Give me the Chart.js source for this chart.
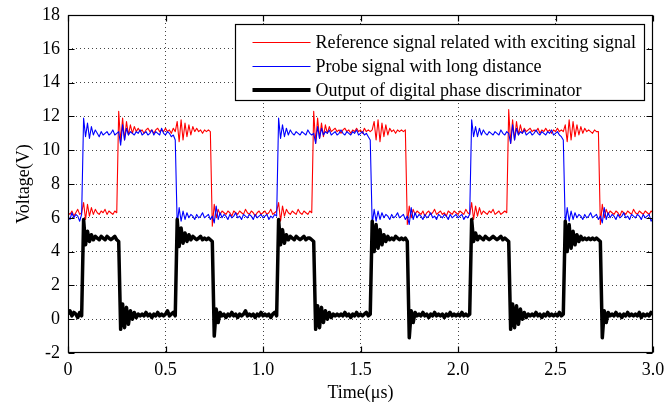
<!DOCTYPE html>
<html lang="en">
<head>
<meta charset="UTF-8">
<title>Phase discriminator waveforms</title>
<script src="https://cdn.jsdelivr.net/npm/chart.js@4"></script>
<style>
  html, body { margin: 0; padding: 0; background: #fff; }
  #wrap { width: 664px; height: 408px; }
</style>
</head>
<body>
<div id="wrap"><canvas id="scope" width="664" height="408"></canvas></div>
<script>
// scope samples, one every 0.01 us from 0 to 3.0 us (301 per trace)
const sampleStep = 0.01;

const referenceSignal = [
  6.3, 6.2, 6.4, 6.1, 6.3, 6.5, 6.2, 6.3, 6.9, 5.9,      // 0
  6.8, 6.1, 6.6, 6.2, 6.5, 6.3, 6.2, 6.4, 6.3, 6.5,
  6.2, 6.4, 6.3, 6.2, 6.4, 6.3, 12.3, 10.5, 11.9, 10.6,
  11.7, 10.9, 11.5, 11.0, 11.4, 11.1, 11.3, 11.1, 11.2, 11.0,
  11.2, 11.3, 11.1, 11.2, 11.0, 11.2, 11.3, 11.1, 11.2, 11.1,
  11.3, 11.1, 11.2, 11.0, 11.3, 11.1, 11.7, 10.5, 11.8, 10.6,
  11.6, 10.8, 11.5, 10.9, 11.4, 11.1, 11.3, 11.1, 11.2, 11.0,
  11.2, 11.1, 11.2, 11.1, 5.5, 6.8, 6.0, 6.5, 6.2, 6.4,
  6.3, 6.2, 6.4, 6.3, 6.1, 6.4, 6.3, 6.2, 6.4, 6.3,
  6.2, 6.5, 6.3, 6.2, 6.4, 6.3, 6.1, 6.3, 6.4, 6.2,
  6.3, 6.4, 6.2, 6.3, 6.5, 6.2, 6.3, 6.4, 6.9, 5.8,      // 100
  6.7, 6.1, 6.5, 6.3, 6.2, 6.4, 6.3, 6.2, 6.5, 6.3,
  6.2, 6.4, 6.3, 6.2, 6.4, 6.3, 12.3, 10.4, 11.9, 10.7,
  11.6, 10.8, 11.5, 11.0, 11.4, 11.1, 11.2, 11.3, 11.1, 11.2,
  11.0, 11.2, 11.3, 11.1, 11.2, 11.0, 11.2, 11.1, 11.3, 11.1,
  11.2, 11.0, 11.3, 11.1, 11.2, 11.1, 11.2, 11.7, 10.6, 11.8,
  10.5, 11.6, 10.8, 11.5, 10.9, 11.3, 11.1, 11.2, 11.0, 11.2,
  11.1, 11.2, 11.1, 11.2, 5.6, 6.7, 6.0, 6.5, 6.2, 6.4,
  6.3, 6.2, 6.4, 6.1, 6.3, 6.4, 6.2, 6.3, 6.5, 6.2,
  6.3, 6.4, 6.2, 6.3, 6.1, 6.4, 6.3, 6.2, 6.4, 6.3,
  6.2, 6.4, 6.3, 6.2, 6.5, 6.3, 6.2, 6.9, 5.9, 6.7,      // 200
  6.1, 6.6, 6.2, 6.4, 6.3, 6.2, 6.4, 6.3, 6.5, 6.2,
  6.3, 6.4, 6.2, 6.3, 6.4, 6.3, 12.4, 10.4, 11.8, 10.6,
  11.7, 10.9, 11.5, 11.0, 11.3, 11.1, 11.2, 11.3, 11.1, 11.2,
  11.1, 11.3, 11.0, 11.2, 11.1, 11.3, 11.1, 11.2, 11.0, 11.2,
  11.1, 11.3, 11.1, 11.2, 11.1, 11.5, 10.5, 11.8, 10.6, 11.7,
  10.8, 11.5, 10.9, 11.4, 11.0, 11.3, 11.1, 11.2, 11.1, 11.0,
  11.2, 11.1, 11.1, 5.6, 6.8, 6.0, 6.5, 6.2, 6.4, 6.3,
  6.2, 6.4, 6.3, 6.1, 6.4, 6.3, 6.2, 6.4, 6.3, 6.2,
  6.5, 6.3, 6.2, 6.4, 6.3, 6.2, 6.4, 6.3, 6.2, 6.4,
  6.3                                                    // 300
];

const probeSignal = [
  6.1, 5.9, 6.3, 6.0, 6.2, 6.1, 5.8, 6.2, 11.9, 10.8,    // 0
  11.6, 10.7, 11.4, 10.9, 11.2, 11.0, 10.8, 11.1, 10.9, 11.0,
  11.1, 10.9, 11.0, 11.2, 10.9, 11.0, 11.1, 10.3, 11.5, 10.6,
  11.3, 10.9, 11.1, 11.0, 10.9, 11.1, 11.0, 11.2, 10.9, 11.0,
  11.1, 10.9, 11.0, 11.2, 10.9, 11.1, 11.0, 10.9, 11.3, 11.0,
  10.9, 11.1, 11.0, 10.8, 10.9, 10.6, 5.6, 6.6, 5.8, 6.4,
  5.9, 6.3, 6.0, 6.2, 6.1, 5.9, 6.2, 6.0, 6.1, 6.3,
  6.0, 6.1, 6.2, 5.9, 6.1, 5.7, 6.7, 5.9, 6.3, 6.0,
  6.2, 6.1, 5.9, 6.2, 6.0, 6.1, 6.3, 6.0, 6.1, 5.9,
  6.2, 6.1, 6.0, 6.2, 6.1, 5.9, 6.2, 6.0, 6.1, 6.2,
  6.0, 6.1, 6.2, 5.9, 6.1, 6.0, 6.2, 6.1, 11.9, 10.7,    // 100
  11.5, 10.8, 11.3, 10.9, 11.2, 11.0, 10.9, 11.1, 11.0, 10.9,
  11.1, 11.0, 10.9, 11.2, 11.0, 10.9, 11.0, 10.4, 11.4, 10.7,
  11.3, 10.9, 11.1, 11.0, 11.2, 10.9, 11.0, 11.1, 10.9, 11.0,
  11.2, 11.0, 10.9, 11.1, 11.0, 10.9, 11.1, 11.0, 11.2, 10.9,
  11.0, 11.1, 10.9, 11.0, 10.8, 10.6, 5.6, 6.5, 5.8, 6.4,
  5.9, 6.3, 6.0, 6.2, 6.1, 5.9, 6.2, 6.0, 6.1, 6.3,
  6.0, 6.1, 6.2, 5.9, 6.1, 5.6, 6.6, 5.9, 6.3, 6.0,
  6.2, 6.1, 5.9, 6.2, 6.0, 6.1, 6.3, 6.0, 6.1, 5.9,
  6.2, 6.1, 6.0, 6.2, 6.1, 5.9, 6.2, 6.0, 6.1, 6.2,
  6.0, 6.1, 6.2, 5.9, 6.1, 6.0, 6.2, 11.8, 10.8, 11.4,   // 200
  10.8, 11.3, 10.9, 11.2, 11.0, 10.9, 11.1, 11.0, 10.9, 11.1,
  11.0, 10.9, 11.2, 11.0, 10.9, 11.1, 11.0, 10.4, 11.5, 10.6,
  11.3, 10.9, 11.1, 11.0, 11.2, 10.9, 11.0, 11.1, 10.9, 11.0,
  11.2, 11.0, 10.9, 11.1, 11.0, 10.9, 11.1, 11.0, 11.2, 10.9,
  11.0, 11.1, 10.9, 10.8, 10.6, 5.6, 6.6, 5.8, 6.4, 5.9,
  6.3, 6.0, 6.2, 6.1, 5.9, 6.2, 6.0, 6.1, 6.3, 6.0,
  6.1, 6.2, 5.9, 6.1, 5.7, 6.6, 5.9, 6.3, 6.0, 6.2,
  6.1, 5.9, 6.2, 6.0, 6.1, 6.3, 6.0, 6.1, 5.9, 6.2,
  6.1, 6.0, 6.2, 6.1, 5.9, 6.2, 6.0, 6.1, 6.2, 5.8,
  6.0                                                    // 300
];

const discriminatorOutput = [
  0.3, 0.5, 0.2, 0.4, 0.3, 0.1, 0.4, 0.2, 5.9, 4.4,      // 0
  5.2, 4.6, 5.0, 4.7, 4.9, 4.8, 4.7, 4.9, 4.8, 4.7,
  4.9, 4.8, 4.7, 4.8, 4.9, 4.7, 4.6, -0.6, 0.9, -0.5,
  0.7, -0.3, 0.5, 0.0, 0.4, 0.1, 0.3, 0.2, 0.3, 0.2,
  0.4, 0.2, 0.3, 0.1, 0.3, 0.2, 0.4, 0.2, 0.3, 0.2,
  0.3, 0.5, 0.2, 0.3, 0.4, 0.2, 5.9, 4.3, 5.4, 4.5,
  5.1, 4.6, 5.0, 4.7, 4.9, 4.8, 4.7, 4.8, 4.9, 4.7,
  4.8, 4.7, 4.8, 4.7, 4.6, -1.0, 0.6, -0.2, 0.4, 0.2,
  0.3, 0.1, 0.3, 0.2, 0.4, 0.2, 0.3, 0.1, 0.3, 0.2,
  0.3, 0.5, 0.2, 0.3, 0.2, 0.3, 0.1, 0.3, 0.2, 0.4,
  0.2, 0.3, 0.2, 0.3, 0.1, 0.3, 0.4, 0.2, 5.9, 4.4,      // 100
  5.3, 4.5, 5.0, 4.7, 4.9, 4.8, 4.7, 4.9, 4.8, 4.7,
  4.8, 4.9, 4.7, 4.8, 4.8, 4.7, 4.6, -0.6, 0.8, -0.5,
  0.7, -0.2, 0.5, 0.0, 0.4, 0.1, 0.3, 0.2, 0.3, 0.2,
  0.3, 0.2, 0.4, 0.2, 0.3, 0.1, 0.3, 0.2, 0.4, 0.2,
  0.3, 0.2, 0.3, 0.4, 0.2, 0.3, 5.8, 4.0, 5.6, 4.2,
  5.3, 4.4, 5.0, 4.6, 4.9, 4.7, 4.8, 4.7, 4.9, 4.8,
  4.7, 4.8, 4.7, 4.8, 4.6, -1.1, 0.5, -0.2, 0.4, 0.2,
  0.3, 0.2, 0.4, 0.2, 0.3, 0.1, 0.3, 0.2, 0.4, 0.2,
  0.3, 0.2, 0.3, 0.1, 0.3, 0.2, 0.4, 0.2, 0.3, 0.2,
  0.3, 0.2, 0.4, 0.2, 0.3, 0.2, 0.3, 5.9, 4.6, 5.1,      // 200
  4.7, 4.9, 4.8, 4.7, 4.9, 4.8, 4.7, 4.8, 4.9, 4.8,
  4.7, 4.8, 4.9, 4.7, 4.8, 4.7, 4.6, -0.6, 0.9, -0.5,
  0.8, -0.3, 0.6, 0.0, 0.4, 0.1, 0.3, 0.2, 0.3, 0.2,
  0.4, 0.2, 0.3, 0.1, 0.3, 0.2, 0.4, 0.2, 0.3, 0.2,
  0.3, 0.2, 0.4, 0.2, 0.3, 5.8, 4.0, 5.6, 4.2, 5.2,
  4.4, 5.0, 4.6, 4.9, 4.7, 4.8, 4.7, 4.8, 4.7, 4.8,
  4.7, 4.8, 4.7, 4.6, -1.1, 0.5, -0.2, 0.4, 0.2, 0.3,
  0.2, 0.4, 0.2, 0.3, 0.1, 0.3, 0.2, 0.4, 0.2, 0.3,
  0.2, 0.3, 0.2, 0.4, 0.1, 0.3, 0.2, 0.3, 0.2, 0.4,
  0.3                                                    // 300
];

const seriesLabels = [
  'Reference signal related with exciting signal',
  'Probe signal with long distance',
  'Output of digital phase discriminator'
];
const seriesColors = ['#ff0000', '#0000ff', '#000000'];
const xTicks = [0, 0.5, 1.0, 1.5, 2.0, 2.5, 3.0];
const yTicks = [-2, 0, 2, 4, 6, 8, 10, 12, 14, 16, 18];

const serif = 'Liberation Serif, Times New Roman, serif';

function toPoints(values) {
  return values.map((v, i) => ({ x: Math.round(i * sampleStep * 100) / 100, y: v }));
}

// box, inward ticks and the legend, drawn MATLAB-style
const scopeFrame = {
  id: 'scopeFrame',
  afterDraw(chart) {
    const { ctx, chartArea: a, scales } = chart;
    const L = Math.round(a.left) + 0.5, R = Math.round(a.right) - 0.5;
    const T = Math.round(a.top) + 0.5, B = Math.round(a.bottom) - 0.5;
    const tick = 6;
    ctx.save();
    ctx.setLineDash([]);
    ctx.strokeStyle = '#000';
    ctx.lineWidth = 1.2;
    ctx.strokeRect(L, T, R - L, B - T);
    ctx.beginPath();
    xTicks.forEach(v => {
      const px = Math.round(scales.x.getPixelForValue(v)) + 0.5;
      ctx.moveTo(px, B); ctx.lineTo(px, B - tick);
      ctx.moveTo(px, T); ctx.lineTo(px, T + tick);
    });
    yTicks.forEach(v => {
      const py = Math.round(scales.y.getPixelForValue(v)) + 0.5;
      ctx.moveTo(L, py); ctx.lineTo(L + tick, py);
      ctx.moveTo(R, py); ctx.lineTo(R - tick, py);
    });
    ctx.stroke();

    // legend box in the upper right corner
    ctx.font = '18px ' + serif;
    const textW = Math.max(...seriesLabels.map(s => ctx.measureText(s).width));
    const lineLen = 58, rowH = 24;
    const boxR = R - 8, boxT = T + 9;
    const boxW = 17 + lineLen + 5 + textW + 9;
    const boxH = 76;
    const boxL = Math.round(boxR - boxW) + 0.5;
    ctx.fillStyle = '#fff';
    ctx.fillRect(boxL, boxT, boxR - boxL, boxH);
    ctx.strokeStyle = '#000';
    ctx.lineWidth = 1.2;
    ctx.strokeRect(boxL, boxT, boxR - boxL, boxH);
    ctx.textBaseline = 'middle';
    ctx.textAlign = 'left';
    chart.data.datasets.slice().sort((p, q) => p.legendIndex - q.legendIndex).forEach((ds, k) => {
      const cy = Math.round(boxT + 17 + k * rowH);
      const thin = ds.borderWidth < 2;
      ctx.strokeStyle = ds.borderColor;
      ctx.lineWidth = thin ? 1 : 4;
      ctx.beginPath();
      ctx.moveTo(boxL + 17, cy + (thin ? 0.5 : 0));
      ctx.lineTo(boxL + 17 + lineLen, cy + (thin ? 0.5 : 0));
      ctx.stroke();
      ctx.fillStyle = '#000';
      ctx.fillText(ds.label, boxL + 17 + lineLen + 5, cy + 1);
    });
    ctx.restore();
  }
};

const gridColor = edges => ({ tick }) => edges.includes(tick.value) ? 'rgba(0,0,0,0)' : '#444';

new Chart(document.getElementById('scope'), {
  type: 'line',
  data: {
    datasets: [
      { label: seriesLabels[0], legendIndex: 0, data: toPoints(referenceSignal), borderColor: seriesColors[0], borderWidth: 1.1, order: 3 },
      { label: seriesLabels[1], legendIndex: 1, data: toPoints(probeSignal), borderColor: seriesColors[1], borderWidth: 1.1, order: 2 },
      { label: seriesLabels[2], legendIndex: 2, data: toPoints(discriminatorOutput), borderColor: seriesColors[2], borderWidth: 3.5, order: 1 }
    ]
  },
  options: {
    responsive: false,
    animation: false,
    devicePixelRatio: 1,
    parsing: false,
    elements: { point: { radius: 0 }, line: { tension: 0, fill: false, borderJoinStyle: 'round' } },
    layout: { padding: { top: 15, right: 11, left: 0, bottom: 0 } },
    plugins: { legend: { display: false }, tooltip: { enabled: false } },
    scales: {
      x: {
        type: 'linear', min: 0, max: 3,
        afterBuildTicks: s => { s.ticks = xTicks.map(v => ({ value: v })); },
        afterFit: s => { s.height = 55; s.paddingLeft = 0; s.paddingRight = 0; },
        ticks: {
          color: '#000', padding: 6, maxRotation: 0,
          font: { family: serif, size: 18 },
          callback: v => v === 0 ? '0' : v.toFixed(1)
        },
        grid: { color: gridColor([0, 3]), lineWidth: 1, drawTicks: false },
        border: { display: false, dash: [1, 3] },
        title: { display: true, text: 'Time(μs)', color: '#000', font: { family: serif, size: 18 }, padding: { top: 0, bottom: 4 } }
      },
      y: {
        type: 'linear', min: -2, max: 18,
        afterBuildTicks: s => { s.ticks = yTicks.map(v => ({ value: v })); },
        afterFit: s => { s.width = 68; s.paddingTop = 0; s.paddingBottom = 0; },
        ticks: { color: '#000', padding: 8, font: { family: serif, size: 18 } },
        grid: { color: gridColor([-2, 18]), lineWidth: 1, drawTicks: false },
        border: { display: false, dash: [1, 3] },
        title: { display: true, text: 'Voltage(V)', color: '#000', font: { family: serif, size: 18 }, padding: { top: 13, bottom: 0 } }
      }
    }
  },
  plugins: [scopeFrame]
});
</script>
</body>
</html>
